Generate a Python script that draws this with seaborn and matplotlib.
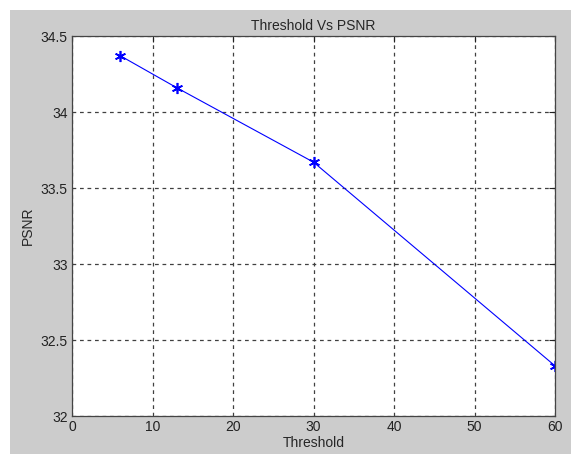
import matplotlib
matplotlib.use("Agg")
import matplotlib.pyplot as plt
import seaborn as sns
import pandas as pd
from matplotlib.patches import Rectangle

threshold = [6, 13, 30, 60]
psnr = [34.37, 34.16, 33.67, 32.33]
x_ticks = [0, 10, 20, 30, 40, 50, 60]
y_ticks = [32, 32.5, 33, 33.5, 34, 34.5]

df = pd.DataFrame({"Threshold": threshold, "PSNR": psnr})

sns.set_style("white")
plt.rcParams["font.family"] = ["Liberation Sans", "DejaVu Sans"]

fig = plt.figure(figsize=(5.71, 4.55), dpi=100, facecolor="white")
# gray window background behind the axes
bg = Rectangle((10 / 571, 0.002), 1.0, 1 - 10 / 455 - 0.002,
               transform=fig.transFigure, facecolor="#cccccc",
               edgecolor="none", zorder=-10)
fig.add_artist(bg)
ax = fig.add_axes([72 / 571, 39 / 455, (555 - 72) / 571, (416 - 36) / 455])
ax.set_facecolor("white")

# matlab style '*' marker = asterisk
sns.lineplot(data=df, x="Threshold", y="PSNR", ax=ax, color="blue",
             linewidth=0.8, marker=(6, 2, 0), markersize=8,
             markeredgecolor="blue", markeredgewidth=1.2)

ax.set_xlim(0, 60)
ax.set_ylim(32, 34.5)
ax.set_xticks(x_ticks)
ax.set_yticks(y_ticks)
ax.set_xticklabels([str(t) for t in x_ticks])
ax.set_yticklabels(["32", "32.5", "33", "33.5", "34", "34.5"])
ax.grid(True, color="#404040", linestyle=(0, (3, 3)), linewidth=0.9)
ax.tick_params(direction="in", length=4, top=True, right=True, labelsize=10,
               colors="#222222", pad=3)
for s in ax.spines.values():
    s.set_visible(True)
    s.set_color("#444444")
    s.set_linewidth(0.9)

ax.set_title("Threshold Vs PSNR", fontsize=10, pad=4)
ax.set_xlabel("Threshold", fontsize=10, labelpad=1)
ax.set_ylabel("PSNR", fontsize=10, labelpad=4)

fig.savefig("out.png", dpi=100, facecolor=fig.get_facecolor())
